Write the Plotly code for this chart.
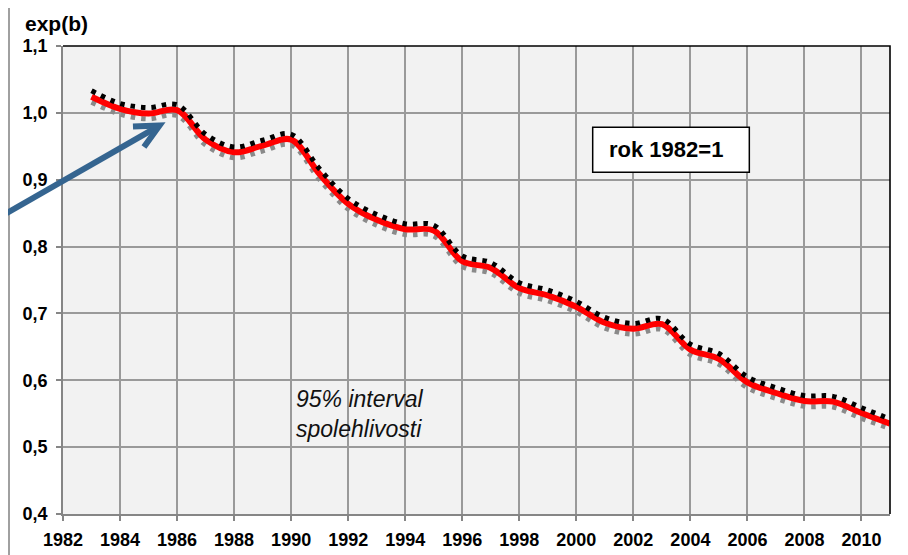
import plotly.graph_objects as go

years = list(range(1983, 2012))
estimate = [1.024, 1.006, 0.999, 1.004, 0.960, 0.941, 0.951, 0.960, 0.908, 0.864,
            0.840, 0.826, 0.824, 0.778, 0.768, 0.738, 0.727, 0.710, 0.686, 0.677,
            0.684, 0.646, 0.632, 0.597, 0.581, 0.569, 0.568, 0.551, 0.535]
upper = [1.033, 1.014, 1.008, 1.012, 0.968, 0.949, 0.959, 0.968, 0.916, 0.872,
         0.848, 0.834, 0.832, 0.786, 0.776, 0.746, 0.735, 0.718, 0.694, 0.685,
         0.692, 0.654, 0.640, 0.605, 0.589, 0.577, 0.576, 0.559, 0.542]
lower = [1.016, 0.998, 0.991, 0.996, 0.952, 0.933, 0.943, 0.952, 0.900, 0.856,
         0.832, 0.818, 0.816, 0.770, 0.760, 0.730, 0.719, 0.702, 0.678, 0.669,
         0.676, 0.638, 0.624, 0.589, 0.573, 0.561, 0.560, 0.543, 0.528]

x_tickvals = list(range(1982, 2011, 2))
x_ticktext = [str(v) for v in x_tickvals]
y_tickvals = [0.4, 0.5, 0.6, 0.7, 0.8, 0.9, 1.0, 1.1]
y_ticktext = ["0,4", "0,5", "0,6", "0,7", "0,8", "0,9", "1,0", "1,1"]

FONT = "Liberation Sans, Arial, sans-serif"
GRID = "#9A9A9A"

fig = go.Figure()
fig.add_trace(go.Scatter(x=years, y=lower, mode="lines",
                         line=dict(color="#8A8A8A", width=5, dash="4.5px,6px", shape="spline", smoothing=1)))
fig.add_trace(go.Scatter(x=years, y=estimate, mode="lines",
                         line=dict(color="#FF0000", width=6, shape="spline", smoothing=1)))
fig.add_trace(go.Scatter(x=years, y=upper, mode="lines",
                         line=dict(color="#000000", width=5, dash="4.5px,6px", shape="spline", smoothing=1)))

fig.update_layout(
    width=900, height=547,
    margin=dict(l=55, r=18, t=38, b=41, autoexpand=False),
    paper_bgcolor="white", plot_bgcolor="#F2F2F2",
    showlegend=False,
    font=dict(family=FONT, color="black"),
    xaxis=dict(range=[1982, 2011], tickvals=x_tickvals, ticktext=x_ticktext,
               automargin=False,
               showgrid=True, gridcolor=GRID, gridwidth=1.6,
               showline=True, linecolor="#868686", linewidth=1.6,
               ticks="outside", ticklen=5, tickcolor="#868686", tickwidth=1.5,
               ticklabelstandoff=4,
               tickfont=dict(family=FONT, size=18, weight="bold", color="black"),
               zeroline=False),
    yaxis=dict(range=[0.4, 1.1], tickvals=y_tickvals, ticktext=y_ticktext,
               automargin=False,
               showgrid=True, gridcolor=GRID, gridwidth=1.6,
               showline=True, linecolor="#868686", linewidth=1.6,
               ticks="outside", ticklen=5, tickcolor="#868686", tickwidth=1.5,
               ticklabelstandoff=5,
               tickfont=dict(family=FONT, size=18, weight="bold", color="black"),
               zeroline=False),
)

# chart area border
fig.add_shape(type="rect", xref="paper", yref="paper", x0=-0.0653, x1=1.3, y0=-0.3, y1=1.0897,
              line=dict(color="#A0A0A0", width=2), fillcolor="rgba(0,0,0,0)", layer="below")
# plot area top/right border
fig.add_shape(type="path", xref="paper", yref="paper", path="M 0,1 L 1,1 L 1,0",
              line=dict(color="black", width=1.6))
# arrow
fig.add_shape(type="line", xref="paper", yref="paper", x0=-0.0762, y0=0.6346, x1=0.113, y1=0.826,
              line=dict(color="#356590", width=6))
fig.add_shape(type="path", xref="paper", yref="paper",
              path="M 0.0846,0.8280 L 0.1167,0.8301 L 0.0979,0.7842",
              line=dict(color="#356590", width=6))
# label box
fig.add_shape(type="rect", xref="paper", yref="paper", x0=0.6405, x1=0.8299, y0=0.7301, y1=0.8263,
              line=dict(color="black", width=1.5), fillcolor="white")

fig.add_annotation(xref="paper", yref="paper", x=0.6578, y=0.7778, xanchor="left", yanchor="middle",
                   text="rok 1982=1", showarrow=False,
                   font=dict(family=FONT, size=22, weight="bold", color="black"))
fig.add_annotation(xref="paper", yref="paper", x=-0.0487, y=1.049, xanchor="left", yanchor="middle",
                   text="exp(b)", showarrow=False,
                   font=dict(family=FONT, size=21, weight="bold", color="black"))
fig.add_annotation(xref="paper", yref="paper", x=0.2793, y=0.2137, xanchor="left", yanchor="middle",
                   text="<i>95% interval<br>spolehlivosti</i>", showarrow=False, align="left",
                   font=dict(family=FONT, size=23, color="#111111"))

fig.write_html("out.html")
